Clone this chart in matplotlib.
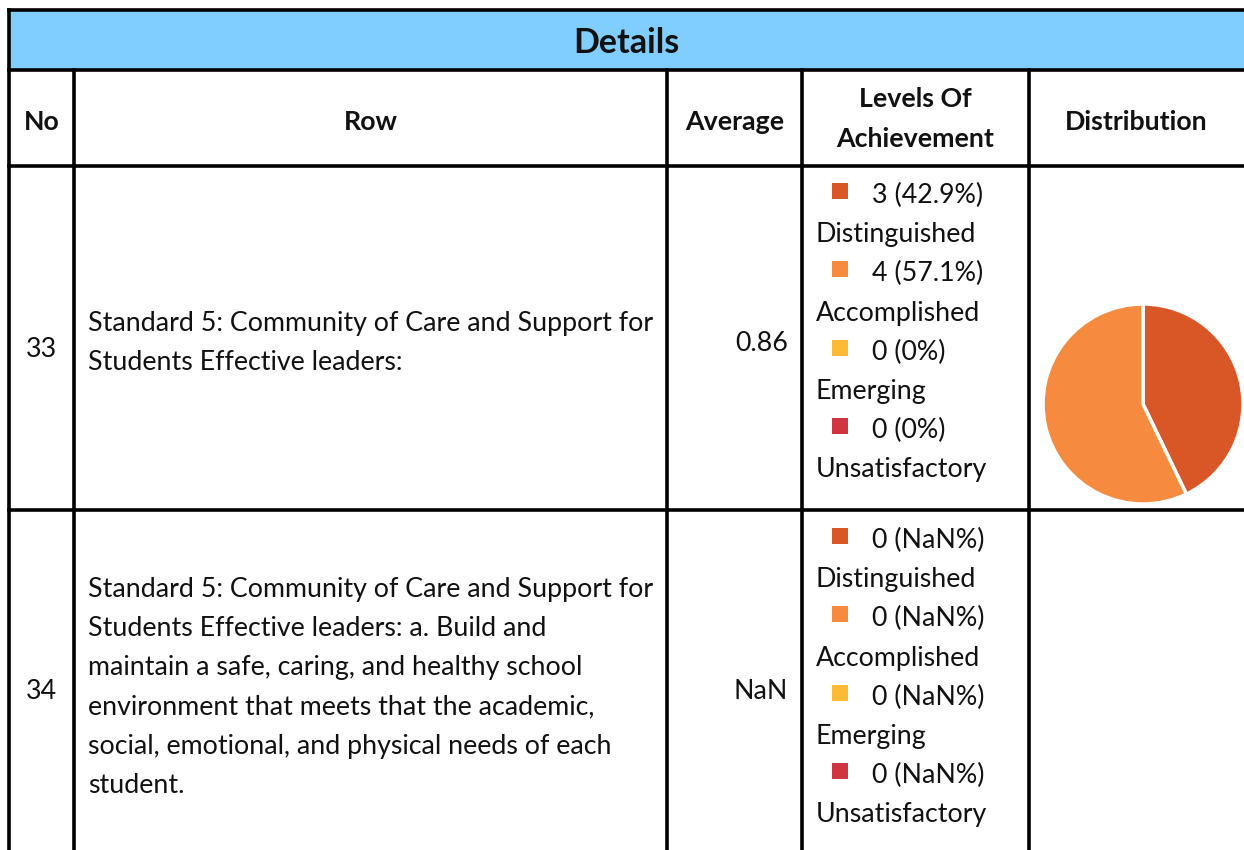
import matplotlib
matplotlib.use('Agg')
import matplotlib.pyplot as plt
from matplotlib.patches import Rectangle

plt.rcParams['font.family'] = ['Lato', 'DejaVu Sans']

# ---- data ----
title = 'Details'
col_headers = ['No', 'Row', 'Average', 'Levels Of\nAchievement', 'Distribution']
levels = ['Distinguished', 'Accomplished', 'Emerging', 'Unsatisfactory']
level_colors = ['#D95627', '#F68A3E', '#FDBA35', '#CE3541']
row_nos = ['33', '34']
row_lines = [
    ['Standard 5: Community of Care and Support for',
     'Students Effective leaders:'],
    ['Standard 5: Community of Care and Support for',
     'Students Effective leaders: a. Build and',
     'maintain a safe, caring, and healthy school',
     'environment that meets that the academic,',
     'social, emotional, and physical needs of each',
     'student.'],
]
averages = ['0.86', 'NaN']
counts = [[3, 4, 0, 0], [0, 0, 0, 0]]

# ---- layout (pixels) ----
W, H = 1244, 850
col_x = [9, 74, 667, 802, 1029, 1244]
row_y = [10, 70, 166, 510, 850]
lh = 39.2
fs = 19.3
lw = 2.6
txt = '#111111'

fig = plt.figure(figsize=(W / 100, H / 100), dpi=100)
ax = fig.add_axes([0, 0, 1, 1])
ax.set_xlim(0, W)
ax.set_ylim(H, 0)
ax.axis('off')

# title band
ax.add_patch(Rectangle((col_x[0], row_y[0]), W - col_x[0], row_y[1] - row_y[0],
                       facecolor='#80CEFF', edgecolor='none'))
ax.text((col_x[0] + W) / 2, 53, title, ha='center', va='baseline',
        fontsize=24.5, fontweight='bold', color=txt)

# grid lines
for y in row_y[:-1]:
    ax.plot([col_x[0], W], [y, y], color='black', lw=lw, solid_capstyle='projecting')
ax.plot([col_x[0], col_x[0]], [row_y[0], H], color='black', lw=lw)
for x in col_x[1:-1]:
    ax.plot([x, x], [row_y[1], H], color='black', lw=lw)

# headers
for i, h in enumerate(col_headers):
    cx = (col_x[i] + col_x[i + 1]) / 2
    lines = h.split('\n')
    b0 = 130 - (len(lines) - 1) * 46 / 2
    for k, s in enumerate(lines):
        ax.text(cx, b0 + k * 40, s, ha='center', va='baseline', fontsize=fs,
                fontweight='bold', color=txt)

# body rows
no_base = [357, 699]
avg_base = [351, 699]
text_base = [331, 597]
legend_base = [203, 548]
for r in range(len(row_nos)):
    ax.text((col_x[0] + col_x[1]) / 2, no_base[r], row_nos[r],
            ha='center', va='baseline', fontsize=fs, color=txt)
    for k, line in enumerate(row_lines[r]):
        ax.text(col_x[1] + 14, text_base[r] + k * lh, line, ha='left', va='baseline',
                fontsize=fs, color=txt)
    ax.text(col_x[3] - 14, avg_base[r], averages[r],
            ha='right', va='baseline', fontsize=fs, color=txt)

    # legend
    total = sum(counts[r])
    for j, lev in enumerate(levels):
        c = counts[r][j]
        pct = '%g' % round(c / total * 100, 1) if total else 'NaN'
        yb = legend_base[r] + 2 * j * lh
        ax.add_patch(Rectangle((832, yb - 20), 16, 16, facecolor=level_colors[j],
                               edgecolor='none'))
        ax.text(872, yb, '%d (%s%%)' % (c, pct), ha='left', va='baseline',
                fontsize=fs, color=txt)
        ax.text(816, yb + lh, lev, ha='left', va='baseline', fontsize=fs, color=txt)

    # pie
    if total:
        cx, cy, rad = 1143, 404, 101
        pax = fig.add_axes([(cx - rad) / W, (H - cy - rad) / H, 2 * rad / W, 2 * rad / H])
        vals = [v for v in counts[r] if v > 0]
        cols = [level_colors[j] for j, v in enumerate(counts[r]) if v > 0]
        pax.pie(vals, colors=cols, startangle=90, counterclock=False,
                wedgeprops=dict(edgecolor='white', linewidth=2.5))
        pax.set_xlim(-1.01, 1.01)
        pax.set_ylim(-1.01, 1.01)
        pax.set_aspect('equal')
        pax.axis('off')

fig.savefig('out.png', dpi=100)
